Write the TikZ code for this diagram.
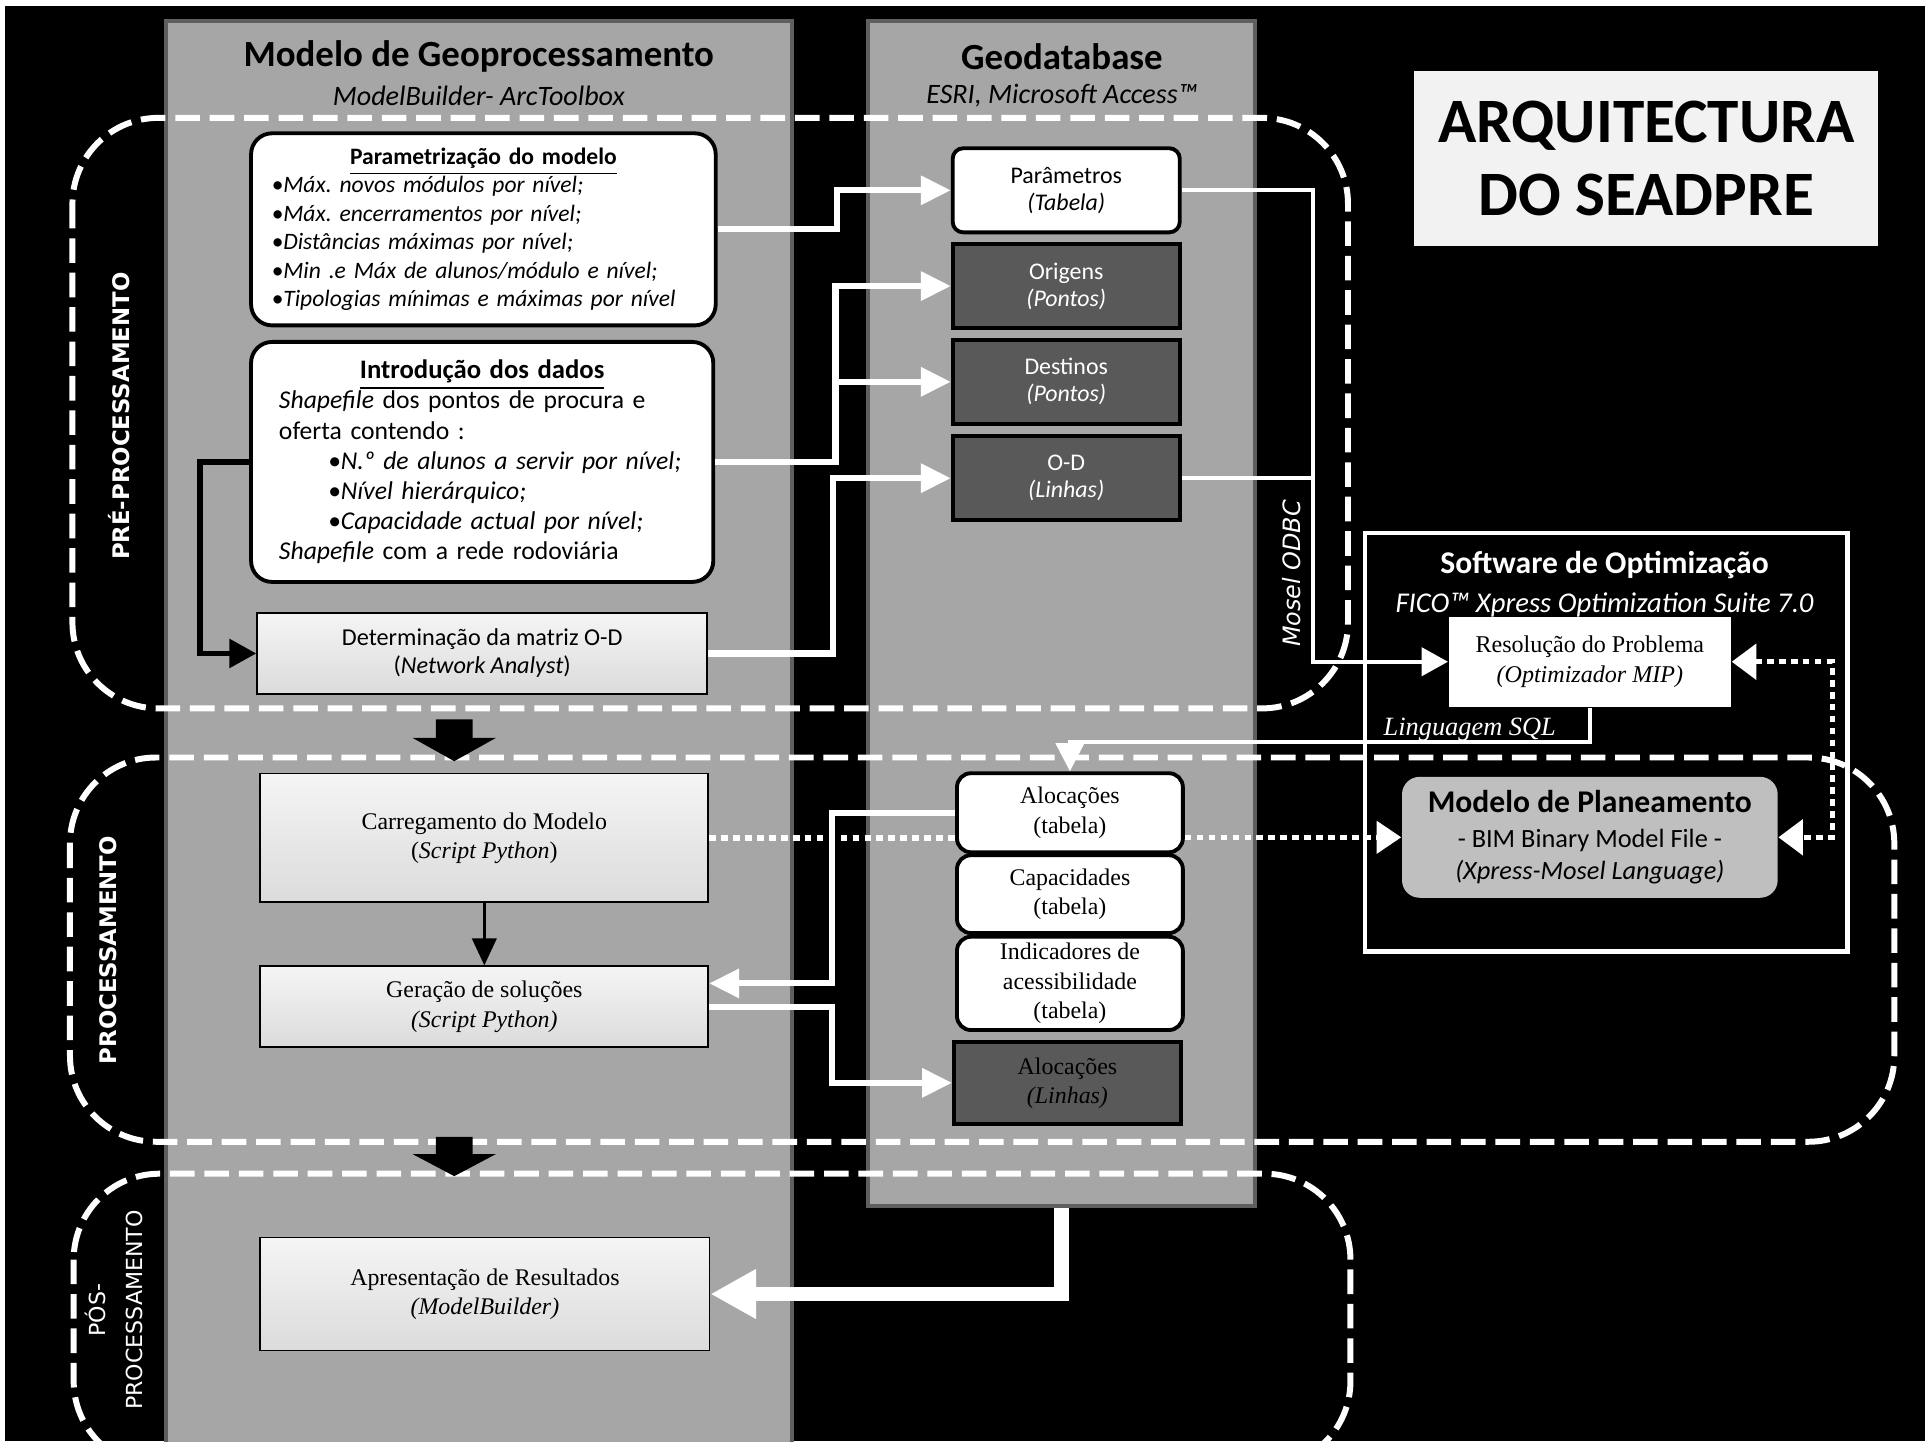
\documentclass[tikz,border=0pt]{standalone}
\usepackage{fontspec}
\setmainfont{Carlito}
\newfontfamily\tnr{Liberation Serif}
\newfontfamily\gothic{DejaVu Sans}
\usetikzlibrary{arrows.meta,calc}
\definecolor{panelgray}{HTML}{A6A6A6}
\definecolor{paneledge}{HTML}{5F5F5F}
\definecolor{darkfill}{HTML}{595959}
\definecolor{planfill}{HTML}{BFBFBF}
\definecolor{titlefill}{HTML}{F2F2F2}
\newcommand{\pxu}{0.012277cm}
\frenchspacing

\begin{document}
\begin{tikzpicture}[x=\pxu, y=-\pxu,
    panel/.style={fill=panelgray, draw=paneledge, line width=1.2pt, inner sep=0pt},
    region/.style={draw=white, line width=1.7pt, dash pattern=on 7pt off 2.8pt, rounded corners=0.86cm},
    whitebox/.style={draw=black, fill=white, line width=1.1pt, inner sep=0pt, align=center},
    darkbox/.style={draw=black, fill=darkfill, line width=1.1pt, inner sep=0pt, align=center, text=white},
    procbox/.style={draw=black, line width=0.5pt, top color=black!4, bottom color=black!14, inner sep=0pt, align=center},
    boxfont/.style={font=\fontsize{6.8}{7.7}\selectfont},
    serif/.style={font=\tnr\fontsize{6.8}{8.3}\selectfont},
    whitearrow/.style={draw=white, line width=1.75pt, -{Triangle[length=8.5pt,width=8pt]}},
    thinwhite/.style={draw=white, line width=1.1pt},
    blackarrow/.style={draw=black, line width=1.6pt, -{Triangle[length=7.7pt,width=8pt]}},
    thinblack/.style={draw=black, line width=0.7pt, -{Triangle[length=7.7pt,width=7pt]}},
    dotline/.style={draw=white, line width=1.5pt, dash pattern=on 1.9pt off 1.5pt},
    bigarrow/.style={draw=white, line width=4.2pt, -{Triangle[length=13pt,width=13.3pt]}}
  ]
  \path[use as bounding box] (0,0) rectangle (1568,1174);
  \fill[white] (0,0) rectangle (1568,1174);
  \fill[black] (4,5) rectangle (1568,1174);

  % colunas
  \node[panel, minimum width=510*\pxu, minimum height=1170*\pxu] (geoproc) at (390,602) {};
  \node[panel, minimum width=315*\pxu, minimum height=965*\pxu] (geodb) at (864.5,499.5) {};
  \node[font=\bfseries\fontsize{10.5}{12}\selectfont] (geoproctit) at (390,46) {Modelo de Geoprocessamento};
  \node[font=\itshape\fontsize{8}{10}\selectfont] (geoprocsub) at (390,78) {ModelBuilder- ArcToolbox};
  \node[font=\bfseries\fontsize{10.5}{12}\selectfont] (geodbtit) at (865,46) {Geodatabase};
  \node[font=\itshape\fontsize{8}{10}\selectfont] (geodbsub) at (865,78) {ESRI, Microsoft Access™};

  \node[fill=titlefill, inner sep=0pt, minimum width=378*\pxu, minimum height=142*\pxu, align=center,
        font=\bfseries\fontsize{18}{21}\selectfont] (titulo) at (1341,129) {ARQUITECTURA\\DO SEADPRE};

  % fases
  \draw[region] (59,96) rectangle (1098,577);
  \draw[region] (57,617) rectangle (1543,930);
  \draw[region] (60,956) rectangle (1100,1195);
  \fill[black] (355,586) -- (385,586) -- (385,601) -- (404,601) -- (370,620) -- (336,601) -- (355,601) -- cycle;
  \fill[black] (355,926) -- (385,926) -- (385,940) -- (404,940) -- (370,958) -- (336,940) -- (355,940) -- cycle;
  \node[rotate=90, text=white, font=\gothic\bfseries\fontsize{6.5}{8}\selectfont] (pretxt) at (97,339) {PRÉ-PROCESSAMENTO};
  \node[rotate=90, text=white, font=\gothic\bfseries\fontsize{6.5}{8}\selectfont] (proctxt) at (88,774) {PROCESSAMENTO};
  \node[rotate=90, text=white, align=center, font=\gothic\fontsize{6.3}{10.5}\selectfont] (postxt) at (93,1067) {PÓS-\\PROCESSAMENTO};

  % software de optimizacao
  \node[draw=white, line width=1.25pt, inner sep=0pt, minimum width=393*\pxu, minimum height=341*\pxu] (software) at (1308.5,604.5) {};
  \node[text=white, font=\bfseries\fontsize{9}{10}\selectfont] (softtit) at (1307,460) {Software de Optimização};
  \node[text=white, font=\itshape\fontsize{8.15}{10}\selectfont] (fico) at (1307,493) {FICO™ Xpress Optimization Suite 7.0};
  \node[fill=white, inner sep=0pt, minimum width=230*\pxu, minimum height=73.5*\pxu, align=center,
        font=\tnr\fontsize{6.85}{8.4}\selectfont] (resolucao) at (1295,539) {Resolução do Problema\\\textit{(Optimizador MIP)}};
  \node[fill=planfill, rounded corners=5pt, inner sep=0pt, minimum width=306*\pxu, minimum height=98.5*\pxu, align=center,
        font=\fontsize{7.5}{9.1}\selectfont] (modelo) at (1295,682)
        {{\bfseries\fontsize{9}{10}\selectfont Modelo de Planeamento}\\[0.7pt] - BIM Binary Model File -\\\textit{(Xpress-Mosel Language)}};

  % modelo de geoprocessamento
  \node[whitebox, rounded corners=6pt, minimum width=378.5*\pxu, minimum height=156.5*\pxu, text width=345*\pxu, align=left,
        font=\fontsize{6.7}{8.1}\selectfont] (param) at (393.75,186.8)
        {{\centering\bfseries\underline{Parametrização do modelo}\par}
         \itshape\textbullet Máx. novos módulos por nível;\\
         \textbullet Máx. encerramentos por nível;\\
         \textbullet Distâncias máximas por nível;\\
         \textbullet Min .e Máx de alunos/módulo e nível;\\
         \textbullet Tipologias mínimas e máximas por nível};
  \node[whitebox, rounded corners=6pt, minimum width=376.5*\pxu, minimum height=195.5*\pxu, text width=331*\pxu, align=left,
        font=\fontsize{7.3}{8.6}\selectfont] (intro) at (392.75,376.25)
        {{\centering\bfseries\fontsize{7.6}{9.1}\selectfont\underline{Introdução dos dados}\par}
         \textit{Shapefile} dos pontos de procura e\\
         oferta contendo :\\
         \hspace*{14pt}\textit{\textbullet N.º de alunos a servir por nível;}\\
         \hspace*{14pt}\textit{\textbullet Nível hierárquico;}\\
         \hspace*{14pt}\textit{\textbullet Capacidade actual por nível;}\\
         \textit{Shapefile} com a rede rodoviária};
  \node[procbox, minimum width=366.5*\pxu, minimum height=65.5*\pxu, font=\fontsize{6.9}{8}\selectfont] (matriz) at (392.75,532.25)
        {Determinação da matriz O-D\\(\textit{Network Analyst})};
  \node[procbox, serif, minimum width=365*\pxu, minimum height=105*\pxu] (carreg) at (394.5,682.5)
        {Carregamento do Modelo\\(\textit{Script Python})};
  \node[procbox, serif, minimum width=365*\pxu, minimum height=66*\pxu] (geracao) at (394.5,820)
        {Geração de soluções\\\textit{(Script Python)}};
  \node[procbox, serif, minimum width=366*\pxu, minimum height=92*\pxu] (apres) at (395,1054)
        {Apresentação de Resultados\\\textit{(ModelBuilder)}};

  % geodatabase
  \node[whitebox, boxfont, rounded corners=3pt, minimum width=185*\pxu, minimum height=68.5*\pxu] (parametros) at (868.5,155) {Parâmetros\\\textit{(Tabela)}};
  \node[darkbox, boxfont, minimum width=185*\pxu, minimum height=68*\pxu] (origens) at (868.5,233) {Origens\\\textit{(Pontos)}};
  \node[darkbox, boxfont, minimum width=185*\pxu, minimum height=68*\pxu] (destinos) at (868.5,311) {Destinos\\\textit{(Pontos)}};
  \node[darkbox, boxfont, minimum width=185*\pxu, minimum height=68.5*\pxu] (od) at (868.5,389.5) {O-D\\\textit{(Linhas)}};
  \node[whitebox, serif, rounded corners=4pt, minimum width=184*\pxu, minimum height=64.4*\pxu] (alocT) at (871.5,662) {Alocações\\(tabela)};
  \node[whitebox, serif, rounded corners=4pt, minimum width=184*\pxu, minimum height=63.4*\pxu] (capac) at (871.5,728.3) {Capacidades\\(tabela)};
  \node[whitebox, serif, rounded corners=4pt, minimum width=184*\pxu, minimum height=76*\pxu] (indic) at (871.5,801) {Indicadores de\\acessibilidade\\(tabela)};
  \node[darkbox, serif, text=black, minimum width=185*\pxu, minimum height=66.5*\pxu] (alocL) at (869.5,882) {Alocações\\\textit{(Linhas)}};

  % ligacoes
  \draw[blackarrow] (intro.west) -- ++(-40,0) |- (matriz.west);
  \draw[whitearrow] (param.east) -- ++(97,0) |- (parametros.west);
  \draw[whitearrow] (intro.east) -- ++(98,0) coordinate (jd) |- (origens.west);
  \draw[whitearrow] (jd |- destinos.west) -- (destinos.west);
  \draw[whitearrow] (matriz.east) -- ++(102,0) |- (od.west);
  \draw[thinwhite, -{Triangle[length=7.5pt,width=8pt]}] (parametros.east) -- ++(107,0) coordinate (odbc) |- (resolucao.west);
  \draw[thinwhite] (od.east) -- (od.east -| odbc);
  \node[rotate=90, text=white, font=\gothic\itshape\fontsize{6.8}{8}\selectfont] (odbctxt) at (1052,467) {Mosel ODBC};
  \draw[thinwhite, -{Triangle[length=8pt,width=8pt]}] (resolucao.south) -- ++(0,28) -| (alocT.north);
  \node[anchor=west, text=white, font=\tnr\itshape\fontsize{7.5}{9}\selectfont] (sqltxt) at (1117,594) {Linguagem SQL};
  \draw[dotline, {Triangle[length=7pt,width=10pt]}-{Triangle[length=7pt,width=10pt]}] (resolucao.east) -- ++(82,0) |- (modelo.east);
  \draw[dotline] (carreg.east) -- (carreg.east -| alocT.west);
  \draw[dotline, -{Triangle[length=7pt,width=9pt]}] (modelo.west -| alocT.east) -- (modelo.west);
  \draw[thinblack] (carreg.south) -- (geracao.north);
  \draw[whitearrow] (alocT.west) -- ++(-100,0) |- ($(geracao.east)+(0,-19)$);
  \draw[whitearrow] (geracao.east) -- ++(100,0) |- (alocL.west);
  \draw[bigarrow] (geodb.south) |- (apres.east);
\end{tikzpicture}
\end{document}
